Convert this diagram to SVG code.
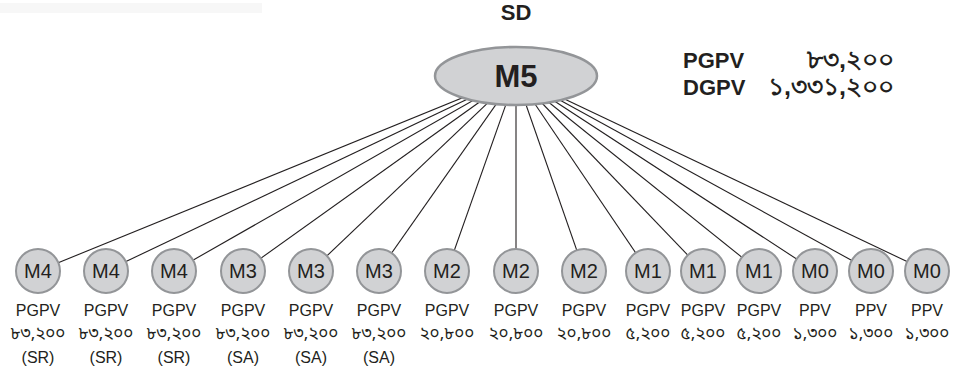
<svg xmlns="http://www.w3.org/2000/svg" width="956" height="375" viewBox="0 0 956 375">
<style>
  .bg { fill: #ffffff; }
  .lbl { font-family: "Liberation Sans", Arial, sans-serif; fill: #231f20; text-anchor: middle; }
  .bn { font-family: "Noto Sans Bengali", "Noto Serif Bengali", "Lohit Bengali", "Liberation Sans", sans-serif; fill: #231f20; }
  .node circle { fill: #d1d2d4; stroke: #939598; stroke-width: 2; }
  .node .t { font-size: 20px; }
  .conn line { stroke: #231f20; stroke-width: 1.1; }
  .sub { font-size: 16px; }
  .num { font-size: 17px; text-anchor: middle; }
  .hd { font-family: "Liberation Sans", Arial, sans-serif; font-weight: bold; fill: #231f20; }
</style>
<rect class="bg" x="0" y="0" width="956" height="375"/>
<rect x="0" y="3" width="262" height="10" fill="#f7f7f7"/>

<g id="connectors" class="conn">
  <line x1="516" y1="76" x2="38" y2="271"/>
  <line x1="516" y1="76" x2="106" y2="271"/>
  <line x1="516" y1="76" x2="174" y2="271"/>
  <line x1="516" y1="76" x2="243" y2="271"/>
  <line x1="516" y1="76" x2="311" y2="271"/>
  <line x1="516" y1="76" x2="379" y2="271"/>
  <line x1="516" y1="76" x2="447" y2="271"/>
  <line x1="516" y1="76" x2="516" y2="271"/>
  <line x1="516" y1="76" x2="584" y2="271"/>
  <line x1="516" y1="76" x2="648" y2="271"/>
  <line x1="516" y1="76" x2="703" y2="271"/>
  <line x1="516" y1="76" x2="759" y2="271"/>
  <line x1="516" y1="76" x2="815" y2="271"/>
  <line x1="516" y1="76" x2="871" y2="271"/>
  <line x1="516" y1="76" x2="927" y2="271"/>
</g>

<g id="root">
  <text class="hd" x="516" y="20" font-size="22" text-anchor="middle">SD</text>
  <ellipse cx="516" cy="76" rx="81" ry="29" fill="#d1d2d4" stroke="#939598" stroke-width="2.5"/>
  <text class="hd" x="516" y="87" font-size="31" text-anchor="middle">M5</text>
</g>

<g id="totals">
  <text class="hd" x="683" y="68" font-size="22">PGPV</text>
  <text class="hd bn" x="894" y="68" font-size="25" text-anchor="end">৮৩,২০০</text>
  <text class="hd" x="683" y="95" font-size="22">DGPV</text>
  <text class="hd bn" x="894" y="95" font-size="25" text-anchor="end">১,৩৩১,২০০</text>
</g>

<g id="n1" class="node"><circle cx="38" cy="271" r="22"/><text class="lbl t" x="38" y="278">M4</text><text class="lbl sub" x="38" y="316">PGPV</text><text class="bn num" x="38" y="339">৮৩,২০০</text><text class="lbl sub" x="38" y="363">(SR)</text></g>
<g id="n2" class="node"><circle cx="106" cy="271" r="22"/><text class="lbl t" x="106" y="278">M4</text><text class="lbl sub" x="106" y="316">PGPV</text><text class="bn num" x="106" y="339">৮৩,২০০</text><text class="lbl sub" x="106" y="363">(SR)</text></g>
<g id="n3" class="node"><circle cx="174" cy="271" r="22"/><text class="lbl t" x="174" y="278">M4</text><text class="lbl sub" x="174" y="316">PGPV</text><text class="bn num" x="174" y="339">৮৩,২০০</text><text class="lbl sub" x="174" y="363">(SR)</text></g>
<g id="n4" class="node"><circle cx="243" cy="271" r="22"/><text class="lbl t" x="243" y="278">M3</text><text class="lbl sub" x="243" y="316">PGPV</text><text class="bn num" x="243" y="339">৮৩,২০০</text><text class="lbl sub" x="243" y="363">(SA)</text></g>
<g id="n5" class="node"><circle cx="311" cy="271" r="22"/><text class="lbl t" x="311" y="278">M3</text><text class="lbl sub" x="311" y="316">PGPV</text><text class="bn num" x="311" y="339">৮৩,২০০</text><text class="lbl sub" x="311" y="363">(SA)</text></g>
<g id="n6" class="node"><circle cx="379" cy="271" r="22"/><text class="lbl t" x="379" y="278">M3</text><text class="lbl sub" x="379" y="316">PGPV</text><text class="bn num" x="379" y="339">৮৩,২০০</text><text class="lbl sub" x="379" y="363">(SA)</text></g>
<g id="n7" class="node"><circle cx="447" cy="271" r="22"/><text class="lbl t" x="447" y="278">M2</text><text class="lbl sub" x="447" y="316">PGPV</text><text class="bn num" x="447" y="339">২০,৮০০</text></g>
<g id="n8" class="node"><circle cx="516" cy="271" r="22"/><text class="lbl t" x="516" y="278">M2</text><text class="lbl sub" x="516" y="316">PGPV</text><text class="bn num" x="516" y="339">২০,৮০০</text></g>
<g id="n9" class="node"><circle cx="584" cy="271" r="22"/><text class="lbl t" x="584" y="278">M2</text><text class="lbl sub" x="584" y="316">PGPV</text><text class="bn num" x="584" y="339">২০,৮০০</text></g>
<g id="n10" class="node"><circle cx="648" cy="271" r="22"/><text class="lbl t" x="648" y="278">M1</text><text class="lbl sub" x="648" y="316">PGPV</text><text class="bn num" x="648" y="339">৫,২০০</text></g>
<g id="n11" class="node"><circle cx="703" cy="271" r="22"/><text class="lbl t" x="703" y="278">M1</text><text class="lbl sub" x="703" y="316">PGPV</text><text class="bn num" x="703" y="339">৫,২০০</text></g>
<g id="n12" class="node"><circle cx="759" cy="271" r="22"/><text class="lbl t" x="759" y="278">M1</text><text class="lbl sub" x="759" y="316">PGPV</text><text class="bn num" x="759" y="339">৫,২০০</text></g>
<g id="n13" class="node"><circle cx="815" cy="271" r="22"/><text class="lbl t" x="815" y="278">M0</text><text class="lbl sub" x="815" y="316">PPV</text><text class="bn num" x="815" y="339">১,৩০০</text></g>
<g id="n14" class="node"><circle cx="871" cy="271" r="22"/><text class="lbl t" x="871" y="278">M0</text><text class="lbl sub" x="871" y="316">PPV</text><text class="bn num" x="871" y="339">১,৩০০</text></g>
<g id="n15" class="node"><circle cx="927" cy="271" r="22"/><text class="lbl t" x="927" y="278">M0</text><text class="lbl sub" x="927" y="316">PPV</text><text class="bn num" x="927" y="339">১,৩০০</text></g>
</svg>
